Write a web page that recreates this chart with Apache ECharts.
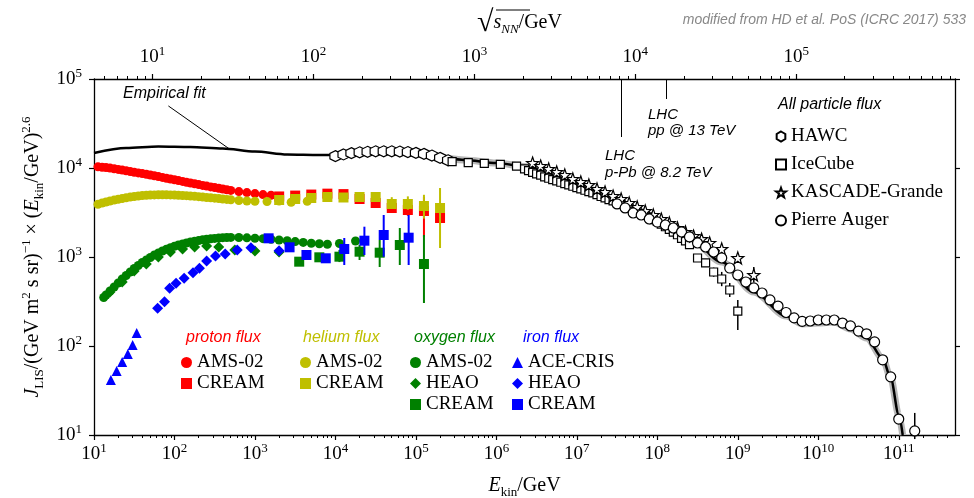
<!DOCTYPE html>
<html>
<head>
<meta charset="utf-8" />
<script src="https://cdn.jsdelivr.net/npm/echarts@6/dist/echarts.min.js"></script>
</head>
<body style="margin:0">
<div id="chart" style="width:974px;height:498px;"></div>
<script>
// E_kin in GeV, flux scaled by E^2.6

// proton
var protonAmsE = [11.2, 12.6, 14.1, 15.8, 17.8, 20.0, 22.4, 25.1, 28.2, 31.6, 35.5, 39.8, 44.7, 50.1, 56.2, 63.1, 70.8, 79.4, 89.1, 100, 112, 126, 141, 158, 178, 200, 224, 251, 282, 316, 355, 398, 447, 501, 631, 794, 1000, 1259, 1585];
var protonAmsJ = [10310, 10210, 10100, 9975, 9820, 9645, 9470, 9300, 9135, 8970, 8810, 8650, 8500, 8345, 8175, 8005, 7840, 7680, 7520, 7370, 7215, 7070, 6925, 6785, 6645, 6510, 6375, 6260, 6130, 6025, 5915, 5805, 5705, 5600, 5430, 5290, 5155, 5025, 4935];
var protonCreamE = [2000, 3162, 5012, 7943, 12590, 19950, 31620, 50120, 79430, 125900, 199500];
var protonCreamJ = [4790, 4900, 5030, 5150, 5090, 4485, 4045, 3553, 3375, 3290, 2743];
var protonCreamLo = [4600, 4700, 4820, 4950, 4880, 4200, 3750, 3200, 2900, 1680, 2300];
var protonCreamHi = [4980, 5100, 5240, 5360, 5300, 4780, 4350, 3900, 3900, 4720, 3300];

// helium
var heliumAmsE = [11.2, 12.6, 14.1, 15.8, 17.8, 20.0, 22.4, 25.1, 28.2, 31.6, 35.5, 39.8, 44.7, 50.1, 56.2, 63.1, 70.8, 79.4, 89.1, 100, 112, 126, 141, 158, 178, 200, 224, 251, 282, 316, 355, 398, 447, 501, 631, 794, 1000, 1413, 1995, 2818, 4467];
var heliumAmsJ = [3920, 4045, 4150, 4258, 4358, 4450, 4543, 4627, 4710, 4785, 4845, 4910, 4948, 4973, 4987, 5000, 5000, 5000, 4987, 4973, 4948, 4910, 4885, 4845, 4809, 4760, 4710, 4662, 4627, 4579, 4532, 4485, 4439, 4393, 4314, 4258, 4226, 4204, 4258, 4128, 4236];
var heliumCreamE = [2000, 3162, 5012, 7943, 12590, 19950, 31620, 50120, 79430, 125900, 199500];
var heliumCreamJ = [4370, 4485, 4602, 4722, 4662, 4722, 4722, 3940, 3940, 3741, 3553];
var heliumCreamLo = [4200, 4300, 4400, 4500, 4400, 4400, 4300, 3500, 3400, 2700, 1262];
var heliumCreamHi = [4550, 4680, 4800, 4950, 4950, 5050, 5300, 4700, 4800, 5000, 5962];

// oxygen
var oxygenAmsE = [13.2, 14.1, 15.8, 17.8, 20.0, 22.4, 25.1, 28.2, 31.6, 35.5, 39.8, 44.7, 50.1, 56.2, 63.1, 70.8, 79.4, 89.1, 100, 112, 126, 141, 158, 178, 200, 224, 251, 282, 316, 355, 398, 447, 501, 631, 794, 1000, 1259, 1585, 1995, 2512, 3162, 3981, 5012, 6310, 7943, 11220, 17780];
var oxygenAmsJ = [351, 374, 415, 460, 511, 566, 620, 679, 743, 803, 868, 925, 987, 1053, 1109, 1168, 1221, 1272, 1319, 1364, 1400, 1437, 1474, 1505, 1532, 1561, 1581, 1602, 1618, 1635, 1648, 1656, 1660, 1656, 1643, 1626, 1606, 1581, 1552, 1521, 1489, 1459, 1429, 1407, 1392, 1418, 1513];
var oxygenHeaoE = [15.8, 22.4, 31.6, 44.7, 63.1, 89.1, 126, 178, 251, 355, 562, 1000, 1995];
var oxygenHeaoJ = [404, 524, 696, 834, 1000, 1138, 1230, 1295, 1329, 1295, 1198, 1168, 1138];
var oxygenCreamE = [3548, 6310, 11220, 19950, 35480, 63100, 125900];
var oxygenCreamJ = [886, 992, 1008, 1147, 1118, 1364, 834];
var oxygenCreamLo = [840, 930, 877, 925, 772, 813, 304];
var oxygenCreamHi = [935, 1060, 1198, 1364, 1552, 2117, 1767];

// iron
var ironAceE = [16.2, 19.1, 22.4, 26.3, 30.2, 33.9];
var ironAceJ = [41.5, 52.4, 66.1, 81.3, 102.6, 140];
var ironHeaoE = [61.7, 75.2, 87.1, 104.7, 131.8, 169.8, 204.2, 251, 323.6, 426.6, 602.6, 891, 1995];
var ironHeaoJ = [265, 315, 445, 506, 576, 666, 746, 902, 1026, 1081, 1198, 1272, 1177];
var ironCreamE = [1479, 2692, 4365, 7586, 12880, 22910, 39810, 81280];
var ironCreamJ = [1622, 1285, 1053, 967, 1230, 1525, 1767, 1648];
var ironCreamLo = [1540, 1220, 1000, 920, 813, 1053, 1008, 813];
var ironCreamHi = [1710, 1350, 1110, 1020, 1635, 2190, 2965, 2965];

// all particle
var hawcE = [1.0e4, 1.26e4, 1.58e4, 2.0e4, 2.51e4, 3.16e4, 3.98e4, 5.01e4, 6.31e4, 7.94e4, 1.0e5, 1.26e5, 1.58e5, 2.0e5, 2.51e5];
var hawcJ = [13600, 14200, 14700, 15000, 15200, 15400, 15400, 15400, 15300, 15100, 14800, 14400, 13800, 13000, 12200];
var iceE = [2.82e5, 4.47e5, 7.08e5, 1.12e6, 1.78e6,
  2.24e6, 2.51e6, 2.82e6, 3.16e6, 3.55e6, 3.98e6, 4.47e6, 5.01e6, 5.62e6, 6.31e6, 7.08e6, 7.94e6, 8.91e6, 1.0e7,
  1.12e7, 1.26e7, 1.41e7, 1.58e7, 1.78e7, 2.0e7, 2.24e7, 2.51e7, 2.82e7, 3.16e7, 3.55e7, 3.98e7, 4.47e7, 5.01e7,
  5.62e7, 6.31e7, 7.08e7, 7.94e7, 8.91e7, 1.0e8, 1.12e8, 1.26e8, 1.41e8, 1.58e8, 1.78e8, 2.0e8, 2.24e8, 2.51e8,
  3.16e8, 3.98e8, 5.01e8, 6.31e8, 7.94e8, 1.0e9];
var iceJ = [11780, 11480, 11300, 11010, 10520,
  9770, 9333, 8913, 8610, 8318, 7943, 7674, 7413, 7161, 6918, 6683, 6457, 6237, 6026,
  5821, 5623, 5433, 5248, 5012, 4786, 4624, 4416, 4266, 4074, 3890, 3715, 3548, 3388,
  3236, 3090, 2951, 2818, 2630, 2512, 2344, 2188, 2042, 1905, 1778, 1622, 1514, 1380,
  975, 857, 678, 566, 426, 247];
var iceErrE = [3.16e8, 3.98e8, 5.01e8, 6.31e8, 7.94e8, 1.0e9];
var iceErrLo = [900, 790, 600, 470, 355, 151];
var iceErrHi = [1050, 930, 760, 680, 510, 329];
var kgE = [2.82e6, 3.55e6, 4.47e6, 5.62e6, 7.08e6, 8.91e6, 1.12e7, 1.41e7, 1.78e7, 2.24e7, 2.82e7, 3.55e7, 4.47e7, 5.62e7, 7.08e7, 8.91e7, 1.12e8, 1.41e8, 1.78e8, 2.24e8, 2.82e8, 3.55e8, 4.47e8, 6.31e8, 1.0e9, 1.58e9];
var kgJ = [11370, 10520, 9750, 9020, 8340, 7520, 6960, 6440, 5810, 5370, 4840, 4480, 4050, 3650, 3290, 2970, 2670, 2410, 2120, 1910, 1720, 1590, 1440, 1230, 975, 628];
var kgErrE = [1.0e9, 1.58e9];
var kgErrLo = [880, 520];
var kgErrHi = [1080, 770];
var augerE = [3.16e7, 3.98e7, 5.01e7, 6.31e7, 7.94e7, 1.0e8, 1.26e8, 1.58e8, 2.0e8, 2.51e8, 3.16e8, 3.98e8, 5.01e8, 6.31e8, 7.94e8, 1.0e9, 1.26e9, 1.58e9, 2.0e9, 2.51e9, 3.16e9, 3.98e9, 5.01e9, 6.31e9, 7.94e9, 1.0e10, 1.26e10, 1.58e10, 2.0e10, 2.51e10, 3.16e10, 3.98e10, 5.01e10, 6.31e10, 7.94e10, 1.0e11, 1.58e11];
var augerJ = [3945, 3556, 3122, 2964, 2673, 2472, 2289, 2117, 1909, 1679, 1437, 1295, 1138, 975, 752, 628, 524, 449, 394, 329, 281, 238, 207, 189, 191, 196, 196, 196, 181, 168, 147, 137, 111, 70, 45, 15.1, 11.1];
var augerErrE = [1.58e11];
var augerErrLo = [9];
var augerErrHi = [17.7];

// empirical fit
var fitE = [10, 25.1, 63.1, 158, 398, 1000, 2512, 6310, 1.0e4, 2.51e4, 6.31e4, 1.58e5, 3.98e5, 1.0e6, 2.51e6, 6.31e6, 1.58e7, 3.98e7, 1.0e8, 2.51e8, 6.31e8, 1.58e9, 3.98e9, 6.31e9, 1.0e10, 1.58e10, 2.51e10, 3.98e10, 6.31e10, 7.94e10, 1.0e11, 1.12e11];
var fitJ = [14750, 16800, 17450, 17220, 16560, 15310, 14180, 13990, 13990, 14750, 15140, 13990, 12300, 11370, 10250, 7720, 5658, 3741, 2472, 1635, 879, 404, 217, 177, 181, 186, 155, 123, 73, 43.6, 16.8, 10];
var fitPointerE = [84, 482];
var fitPointerJ = [49800, 16350];

// LHC marks on the sqrt(s_NN) axis
var lhcSqrtS = [8200, 15500];
var lhcLowJ = [22300, 59600];

// axes
var E_MIN = 10, E_MAX = 5e11, J_MIN = 10, J_MAX = 1e5;
var M_P = 0.938;
var bottomExponents = [1, 2, 3, 4, 5, 6, 7, 8, 9, 10, 11];
var topExponents = [1, 2, 3, 4, 5];

var RED = '#ff0000', OLIVE = '#bfbf00', GREEN = '#008000', BLUE = '#0000ff';
var SERIF = '"Liberation Serif", "DejaVu Serif", serif';
var SANS = '"Liberation Sans", Arial, sans-serif';
var HEX = 'path://M0,-10L8.66,-5L8.66,5L0,10L-8.66,5L-8.66,-5Z';
var STAR = 'path://M0,-10L2.35,-3.24L9.51,-3.09L3.8,1.24L5.88,8.09L0,4L-5.88,8.09L-3.8,1.24L-9.51,-3.09L-2.35,-3.24Z';

var sqrtLo = Math.sqrt(2 * M_P * E_MIN), sqrtHi = Math.sqrt(2 * M_P * E_MAX);

function minorTicks(lo, hi) {
  var out = [];
  for (var n = Math.floor(lo); n <= Math.ceil(hi); n++) {
    for (var k = 2; k <= 9; k++) {
      var v = n + Math.log10(k);
      if (v > lo && v < hi) out.push(v);
    }
  }
  return out;
}

function pairs(E, J) { return E.map(function (e, i) { return [e, J[i]]; }); }

function pts(name, E, J, symbol, size, color, z, open) {
  return {
    type: 'scatter', name: name, data: pairs(E, J), symbol: symbol, symbolSize: size, z: z,
    itemStyle: open ? { color: '#fff', borderColor: '#000', borderWidth: 1.2, opacity: 1 } : { color: color, opacity: 1 },
    emphasis: { disabled: true }, silent: true
  };
}

function errs(name, E, lo, hi, color, z, width) {
  return {
    type: 'custom', name: name, z: z, silent: true,
    data: E.map(function (e, i) { return [e, lo[i], hi[i]]; }),
    encode: { x: 0, y: [1, 2] },
    renderItem: function (params, api) {
      var a = api.coord([api.value(0), api.value(1)]);
      var b = api.coord([api.value(0), api.value(2)]);
      return { type: 'line', shape: { x1: a[0], y1: a[1], x2: b[0], y2: b[1] }, style: { stroke: color, lineWidth: width || 2 } };
    }
  };
}

var richNum = {
  b: { fontFamily: SERIF, fontSize: 19, lineHeight: 24, color: '#000' },
  s: { fontFamily: SERIF, fontSize: 13, lineHeight: 12, verticalAlign: 'top', color: '#000' }
};
var richTitle = {
  r: { fontFamily: SERIF, fontSize: 20, lineHeight: 26, color: '#000' },
  i: { fontFamily: SERIF, fontSize: 20, lineHeight: 26, fontStyle: 'italic', color: '#000' },
  sub: { fontFamily: SERIF, fontSize: 13, lineHeight: 13, verticalAlign: 'bottom', color: '#000' },
  isub: { fontFamily: SERIF, fontSize: 13, lineHeight: 13, verticalAlign: 'bottom', fontStyle: 'italic', color: '#000' },
  sup: { fontFamily: SERIF, fontSize: 13, lineHeight: 13, verticalAlign: 'top', color: '#000' },
  rad: { fontFamily: SERIF, fontSize: 30, lineHeight: 26, color: '#000' }
};

function powLabel(v) { return '{b|10}{s|' + v + '}'; }
function logPowLabel(v) {
  var n = Math.log10(v);
  if (Math.abs(n - Math.round(n)) > 1e-6) return '';
  return '{b|10}{s|' + Math.round(n) + '}';
}

function legend(names, left, top, gap, iw) {
  return {
    data: names, orient: 'vertical', left: left, top: top, itemGap: gap, itemWidth: iw || 11, itemHeight: iw || 11,
    padding: 0, selectedMode: false,
    formatter: function (n) { return n.replace(/^(proton|helium|oxygen|iron) /, ''); },
    textStyle: { fontFamily: SERIF, fontSize: 19, color: '#000' }
  };
}

var hiddenLine = { show: true, lineStyle: { color: 'rgba(0,0,0,0)' } };
var fitBand = pairs(fitE, fitJ).filter(function (p) { return p[0] >= 1e5; });

var chart = echarts.init(document.getElementById('chart'), null, { renderer: 'canvas' });
chart.setOption({
  animation: false,
  backgroundColor: '#fff',
  grid: { left: 94, right: 19, top: 79, bottom: 63, containLabel: false, outerBoundsMode: 'none' },
  xAxis: [
    { type: 'log', min: E_MIN, max: E_MAX, show: false },
    { type: 'log', min: sqrtLo, max: sqrtHi, position: 'top', show: false },
    {
      type: 'value', position: 'bottom', min: 1, max: Math.log10(E_MAX),
      axisLine: { lineStyle: { color: '#000', width: 1.3 } },
      axisTick: { show: true, inside: false, length: 5, customValues: bottomExponents, lineStyle: { color: '#000', width: 1.2 } },
      axisLabel: { customValues: bottomExponents, formatter: powLabel, margin: 7, rich: richNum },
      splitLine: { show: false },
      name: '{i|E}{sub|kin}{r|/GeV}', nameLocation: 'middle', nameGap: 38,
      nameTextStyle: { rich: richTitle }
    },
    {
      type: 'value', position: 'bottom', min: 1, max: Math.log10(E_MAX),
      axisLine: hiddenLine,
      axisTick: { show: true, inside: false, length: 3, customValues: minorTicks(1, Math.log10(E_MAX)), lineStyle: { color: '#000', width: 1 } },
      axisLabel: { show: false }, splitLine: { show: false }
    },
    {
      type: 'value', position: 'top', min: Math.log10(sqrtLo), max: Math.log10(sqrtHi),
      axisLine: { lineStyle: { color: '#000', width: 1.3 } },
      axisTick: { show: true, inside: false, length: 5, customValues: topExponents, lineStyle: { color: '#000', width: 1.2 } },
      axisLabel: { customValues: topExponents, formatter: powLabel, margin: 10, rich: richNum },
      splitLine: { show: false }
    },
    {
      type: 'value', position: 'top', min: Math.log10(sqrtLo), max: Math.log10(sqrtHi),
      axisLine: hiddenLine,
      axisTick: { show: true, inside: false, length: 3, customValues: minorTicks(Math.log10(sqrtLo), Math.log10(sqrtHi)), lineStyle: { color: '#000', width: 1 } },
      axisLabel: { show: false }, splitLine: { show: false }
    }
  ],
  yAxis: [
    {
      type: 'log', min: J_MIN, max: J_MAX, position: 'left',
      axisLine: { lineStyle: { color: '#000', width: 1.3 } },
      axisTick: { inside: false, length: 5, lineStyle: { color: '#000', width: 1.2 } },
      minorTick: { show: false },
      axisLabel: { formatter: logPowLabel, margin: 12, rich: richNum },
      splitLine: { show: false },
      name: '{i|J}{sub|LIS}{r|/(GeV m}{sup|2}{r| s sr)}{sup|−1}{r| × (}{i|E}{sub|kin}{r|/GeV)}{sup|2.6}',
      nameLocation: 'middle', nameRotate: 90, nameGap: 45,
      nameTextStyle: { rich: richTitle }
    },
    {
      type: 'log', min: J_MIN, max: J_MAX, position: 'right',
      axisLine: { lineStyle: { color: '#000', width: 1.3 } },
      axisTick: { inside: false, length: 5, lineStyle: { color: '#000', width: 1.2 } },
      axisLabel: { show: false }, splitLine: { show: false }
    }
  ],
  legend: [
    legend(['proton AMS-02', 'proton CREAM'], 181, 353, 2),
    legend(['helium AMS-02', 'helium CREAM'], 300, 353, 2),
    legend(['oxygen AMS-02', 'oxygen HEAO', 'oxygen CREAM'], 410, 353, 2),
    legend(['iron ACE-CRIS', 'iron HEAO', 'iron CREAM'], 512, 353, 2),
    legend(['HAWC', 'IceCube', 'KASCADE-Grande', 'Pierre Auger'], 775, 127, 9, 10)
  ],
  graphic: [
    { type: 'text', x: 123, y: 94, style: { text: 'Empirical fit', font: 'italic 16px ' + SANS, fill: '#000', verticalAlign: 'middle' } },
    { type: 'text', x: 186, y: 338, style: { text: 'proton flux', font: 'italic 16px ' + SANS, fill: RED, verticalAlign: 'middle' } },
    { type: 'text', x: 303, y: 338, style: { text: 'helium flux', font: 'italic 16px ' + SANS, fill: OLIVE, verticalAlign: 'middle' } },
    { type: 'text', x: 414, y: 338, style: { text: 'oxygen flux', font: 'italic 16px ' + SANS, fill: GREEN, verticalAlign: 'middle' } },
    { type: 'text', x: 523, y: 338, style: { text: 'iron flux', font: 'italic 16px ' + SANS, fill: BLUE, verticalAlign: 'middle' } },
    { type: 'text', x: 778, y: 105, style: { text: 'All particle flux', font: 'italic 16px ' + SANS, fill: '#000', verticalAlign: 'middle' } },
    { type: 'text', x: 605, y: 156, style: { text: 'LHC', font: 'italic 15px ' + SANS, fill: '#000', verticalAlign: 'middle' } },
    { type: 'text', x: 605, y: 173, style: { text: 'p-Pb @ 8.2 TeV', font: 'italic 15px ' + SANS, fill: '#000', verticalAlign: 'middle' } },
    { type: 'text', x: 648, y: 115, style: { text: 'LHC', font: 'italic 15px ' + SANS, fill: '#000', verticalAlign: 'middle' } },
    { type: 'text', x: 648, y: 131, style: { text: 'pp @ 13 TeV', font: 'italic 15px ' + SANS, fill: '#000', verticalAlign: 'middle' } },
    { type: 'text', x: 966, y: 20, style: { text: 'modified from HD et al. PoS (ICRC 2017) 533', font: 'italic 14px ' + SANS, fill: '#888', align: 'right', verticalAlign: 'middle' } },
    { type: 'text', x: 477, y: 23, style: { text: '{rad|√}{i|s}{isub|NN}{r|/GeV}', rich: richTitle, verticalAlign: 'middle' } },
    { type: 'line', shape: { x1: 496, y1: 10, x2: 530, y2: 10 }, style: { stroke: '#000', lineWidth: 1 } }
  ],
  series: [
    { type: 'line', name: 'fit band', data: fitBand, smooth: 0.3, smoothMonotone: 'x', symbol: 'none', z: 1, silent: true,
      lineStyle: { color: '#b8b8b8', width: 7 } },
    { type: 'line', name: 'Empirical fit', data: pairs(fitE, fitJ), smooth: 0.3, smoothMonotone: 'x', symbol: 'none', z: 2, silent: true,
      lineStyle: { color: '#000', width: 2.5 },
      markLine: { silent: true, symbol: ['none', 'none'], label: { show: false }, lineStyle: { color: '#000', width: 1, type: 'solid' },
        data: [[{ coord: [fitPointerE[0], fitPointerJ[0]] }, { coord: [fitPointerE[1], fitPointerJ[1]] }]] } },
    { type: 'line', name: 'LHC', xAxisIndex: 1, data: [], symbol: 'none', silent: true,
      markLine: { silent: true, symbol: ['none', 'none'], label: { show: false }, lineStyle: { color: '#000', width: 1, type: 'solid' },
        data: lhcSqrtS.map(function (s, i) { return [{ coord: [s, J_MAX] }, { coord: [s, lhcLowJ[i]] }]; }) } },

    pts('proton AMS-02', protonAmsE, protonAmsJ, 'circle', 9, RED, 3),
    errs('p err', protonCreamE, protonCreamLo, protonCreamHi, RED, 3),
    pts('proton CREAM', protonCreamE, protonCreamJ, 'rect', 10, RED, 3),
    pts('helium AMS-02', heliumAmsE, heliumAmsJ, 'circle', 9, OLIVE, 4),
    errs('he err', heliumCreamE, heliumCreamLo, heliumCreamHi, OLIVE, 4),
    pts('helium CREAM', heliumCreamE, heliumCreamJ, 'rect', 10, OLIVE, 4),
    pts('oxygen AMS-02', oxygenAmsE, oxygenAmsJ, 'circle', 9, GREEN, 5),
    pts('oxygen HEAO', oxygenHeaoE, oxygenHeaoJ, 'diamond', 11, GREEN, 5),
    errs('o err', oxygenCreamE, oxygenCreamLo, oxygenCreamHi, GREEN, 5),
    pts('oxygen CREAM', oxygenCreamE, oxygenCreamJ, 'rect', 10, GREEN, 5),
    pts('iron ACE-CRIS', ironAceE, ironAceJ, 'triangle', 10, BLUE, 6),
    pts('iron HEAO', ironHeaoE, ironHeaoJ, 'diamond', 11, BLUE, 6),
    errs('fe err', ironCreamE, ironCreamLo, ironCreamHi, BLUE, 6),
    pts('iron CREAM', ironCreamE, ironCreamJ, 'rect', 10, BLUE, 6),

    pts('HAWC', hawcE, hawcJ, HEX, 11, '#000', 7, true),
    errs('ice err', iceErrE, iceErrLo, iceErrHi, '#000', 7, 1.5),
    pts('IceCube', iceE, iceJ, 'rect', 8, '#000', 7, true),
    errs('kg err', kgErrE, kgErrLo, kgErrHi, '#000', 7, 1.5),
    pts('KASCADE-Grande', kgE, kgJ, STAR, 12, '#000', 7, true),
    errs('auger err', augerErrE, augerErrLo, augerErrHi, '#000', 7, 1.5),
    pts('Pierre Auger', augerE, augerJ, 'circle', 10, '#000', 7, true)
  ]
});
</script>
</body>
</html>
